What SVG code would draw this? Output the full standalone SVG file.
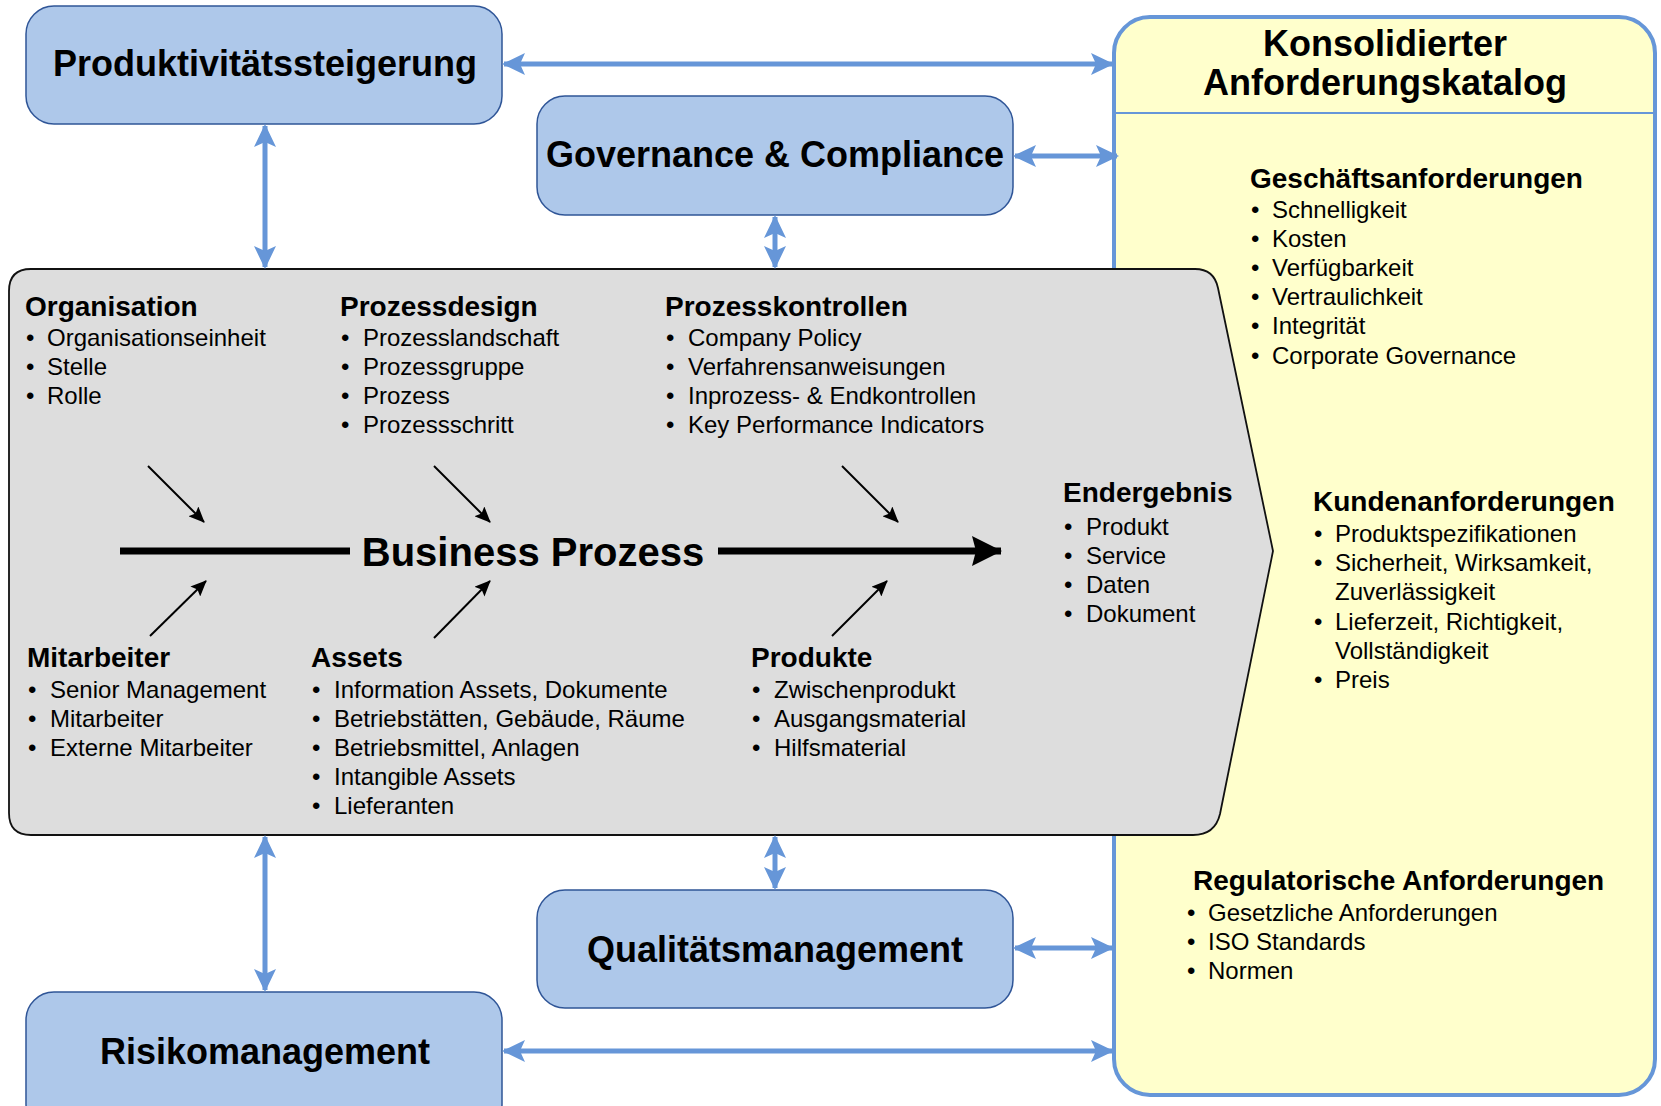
<svg xmlns="http://www.w3.org/2000/svg" width="1661" height="1106" viewBox="0 0 1661 1106">
<style>
.box{fill:#aec8ea;stroke:#2f5597;stroke-width:1.5}
.title{font-family:"Liberation Sans",Arial,sans-serif;font-weight:bold;font-size:36px;fill:#000;text-anchor:middle}
.h{font-family:"Liberation Sans",Arial,sans-serif;font-weight:bold;font-size:28px;fill:#000}
.t{font-family:"Liberation Sans",Arial,sans-serif;font-size:24px;fill:#000}
.blue{stroke:#6696d8;stroke-width:5;fill:none;marker-start:url(#bh);marker-end:url(#bh)}
.blk{stroke:#000;stroke-width:2;fill:none;marker-end:url(#kh)}
</style>
<defs>
<marker id="bh" markerUnits="userSpaceOnUse" markerWidth="24" markerHeight="22" refX="21" refY="11" orient="auto-start-reverse" viewBox="0 0 24 22">
<path d="M0,0 L23,11 L0,22 L5,11 Z" fill="#6696d8"/>
</marker>
<marker id="kh" markerUnits="userSpaceOnUse" markerWidth="16" markerHeight="14" refX="15" refY="7" orient="auto" viewBox="0 0 16 14">
<path d="M0,0 L16,7 L0,14 L3,7 Z" fill="#000"/>
</marker>
<marker id="bigh" markerUnits="userSpaceOnUse" markerWidth="30" markerHeight="30" refX="29" refY="15" orient="auto" viewBox="0 0 30 30">
<path d="M0,0 L30,15 L0,30 L4,15 Z" fill="#000"/>
</marker>
</defs>

<g id="katalog">
<rect x="1114" y="17" width="541" height="1078" rx="36" ry="36" fill="#ffffcc" stroke="#6696d8" stroke-width="4"/>
<line x1="1114" y1="113" x2="1655" y2="113" stroke="#6696d8" stroke-width="2"/>
<text class="title" x="1385" y="56" font-size="35">Konsolidierter</text>
<text class="title" x="1385" y="95" font-size="35">Anforderungskatalog</text>
<text class="h" x="1250" y="188">Geschäftsanforderungen</text>
<g class="t">
<text x="1251" y="218">•<tspan x="1272">Schnelligkeit</tspan></text>
<text x="1251" y="247">•<tspan x="1272">Kosten</tspan></text>
<text x="1251" y="276">•<tspan x="1272">Verfügbarkeit</tspan></text>
<text x="1251" y="305">•<tspan x="1272">Vertraulichkeit</tspan></text>
<text x="1251" y="334">•<tspan x="1272">Integrität</tspan></text>
<text x="1251" y="364">•<tspan x="1272">Corporate Governance</tspan></text>
</g>
<text class="h" x="1313" y="511">Kundenanforderungen</text>
<g class="t">
<text x="1314" y="542">•<tspan x="1335">Produktspezifikationen</tspan></text>
<text x="1314" y="571">•<tspan x="1335">Sicherheit, Wirksamkeit,</tspan></text>
<text x="1335" y="600">Zuverlässigkeit</text>
<text x="1314" y="630">•<tspan x="1335">Lieferzeit, Richtigkeit,</tspan></text>
<text x="1335" y="659">Vollständigkeit</text>
<text x="1314" y="688">•<tspan x="1335">Preis</tspan></text>
</g>
<text class="h" x="1193" y="890">Regulatorische Anforderungen</text>
<g class="t">
<text x="1187" y="921">•<tspan x="1208">Gesetzliche Anforderungen</tspan></text>
<text x="1187" y="950">•<tspan x="1208">ISO Standards</tspan></text>
<text x="1187" y="979">•<tspan x="1208">Normen</tspan></text>
</g>
</g>

<g id="produktivitaet">
<rect class="box" x="26" y="6" width="476" height="118" rx="28" ry="28"/>
<text class="title" x="265" y="76">Produktivitätssteigerung</text>
</g>
<g id="governance">
<rect class="box" x="537" y="96" width="476" height="119" rx="28" ry="28"/>
<text class="title" x="775" y="167">Governance &amp; Compliance</text>
</g>
<g id="qualitaet">
<rect class="box" x="537" y="890" width="476" height="118" rx="28" ry="28"/>
<text class="title" x="775" y="962">Qualitätsmanagement</text>
</g>
<g id="risiko">
<rect class="box" x="26" y="992" width="476" height="140" rx="28" ry="28"/>
<text class="title" x="265" y="1064">Risikomanagement</text>
</g>

<g id="prozess">
<path d="M31,269 L1195,269 Q1214,269 1218,288 L1273,551 L1220,814 Q1215,835 1193,835 L31,835 Q9,835 9,813 L9,291 Q9,269 31,269 Z" fill="#dddddd" stroke="#111" stroke-width="1.8"/>
<line x1="120" y1="551" x2="350" y2="551" stroke="#000" stroke-width="7"/>
<line x1="718" y1="551" x2="1001" y2="551" stroke="#000" stroke-width="7" marker-end="url(#bigh)"/>
<text x="533" y="566" font-family="Liberation Sans, Arial, sans-serif" font-weight="bold" font-size="40" text-anchor="middle">Business Prozess</text>
<line class="blk" x1="148" y1="466" x2="204" y2="522"/>
<line class="blk" x1="434" y1="466" x2="490" y2="522"/>
<line class="blk" x1="842" y1="466" x2="898" y2="522"/>
<line class="blk" x1="150" y1="636" x2="206" y2="581"/>
<line class="blk" x1="434" y1="638" x2="490" y2="581"/>
<line class="blk" x1="832" y1="636" x2="887" y2="581"/>

<text class="h" x="25" y="316">Organisation</text>
<g class="t">
<text x="26" y="346">•<tspan x="47">Organisationseinheit</tspan></text>
<text x="26" y="375">•<tspan x="47">Stelle</tspan></text>
<text x="26" y="404">•<tspan x="47">Rolle</tspan></text>
</g>
<text class="h" x="340" y="316">Prozessdesign</text>
<g class="t">
<text x="341" y="346">•<tspan x="363">Prozesslandschaft</tspan></text>
<text x="341" y="375">•<tspan x="363">Prozessgruppe</tspan></text>
<text x="341" y="404">•<tspan x="363">Prozess</tspan></text>
<text x="341" y="433">•<tspan x="363">Prozessschritt</tspan></text>
</g>
<text class="h" x="665" y="316">Prozesskontrollen</text>
<g class="t">
<text x="666" y="346">•<tspan x="688">Company Policy</tspan></text>
<text x="666" y="375">•<tspan x="688">Verfahrensanweisungen</tspan></text>
<text x="666" y="404">•<tspan x="688">Inprozess- &amp; Endkontrollen</tspan></text>
<text x="666" y="433">•<tspan x="688">Key Performance Indicators</tspan></text>
</g>
<text class="h" x="1063" y="502">Endergebnis</text>
<g class="t">
<text x="1064" y="535">•<tspan x="1086">Produkt</tspan></text>
<text x="1064" y="564">•<tspan x="1086">Service</tspan></text>
<text x="1064" y="593">•<tspan x="1086">Daten</tspan></text>
<text x="1064" y="622">•<tspan x="1086">Dokument</tspan></text>
</g>
<text class="h" x="27" y="667">Mitarbeiter</text>
<g class="t">
<text x="28" y="698">•<tspan x="50">Senior Management</tspan></text>
<text x="28" y="727">•<tspan x="50">Mitarbeiter</tspan></text>
<text x="28" y="756">•<tspan x="50">Externe Mitarbeiter</tspan></text>
</g>
<text class="h" x="311" y="667">Assets</text>
<g class="t">
<text x="312" y="698">•<tspan x="334">Information Assets, Dokumente</tspan></text>
<text x="312" y="727">•<tspan x="334">Betriebstätten, Gebäude, Räume</tspan></text>
<text x="312" y="756">•<tspan x="334">Betriebsmittel, Anlagen</tspan></text>
<text x="312" y="785">•<tspan x="334">Intangible Assets</tspan></text>
<text x="312" y="814">•<tspan x="334">Lieferanten</tspan></text>
</g>
<text class="h" x="751" y="667">Produkte</text>
<g class="t">
<text x="752" y="698">•<tspan x="774">Zwischenprodukt</tspan></text>
<text x="752" y="727">•<tspan x="774">Ausgangsmaterial</tspan></text>
<text x="752" y="756">•<tspan x="774">Hilfsmaterial</tspan></text>
</g>
</g>

<g id="connectors">
<line class="blue" x1="504" y1="64" x2="1112" y2="64"/>
<line class="blue" x1="265" y1="126" x2="265" y2="267"/>
<line class="blue" x1="1015" y1="156" x2="1117" y2="156"/>
<line class="blue" x1="775" y1="217" x2="775" y2="267"/>
<line class="blue" x1="265" y1="837" x2="265" y2="990"/>
<line class="blue" x1="775" y1="837" x2="775" y2="888"/>
<line class="blue" x1="1015" y1="948" x2="1112" y2="948"/>
<line class="blue" x1="504" y1="1051" x2="1112" y2="1051"/>
</g>
</svg>
